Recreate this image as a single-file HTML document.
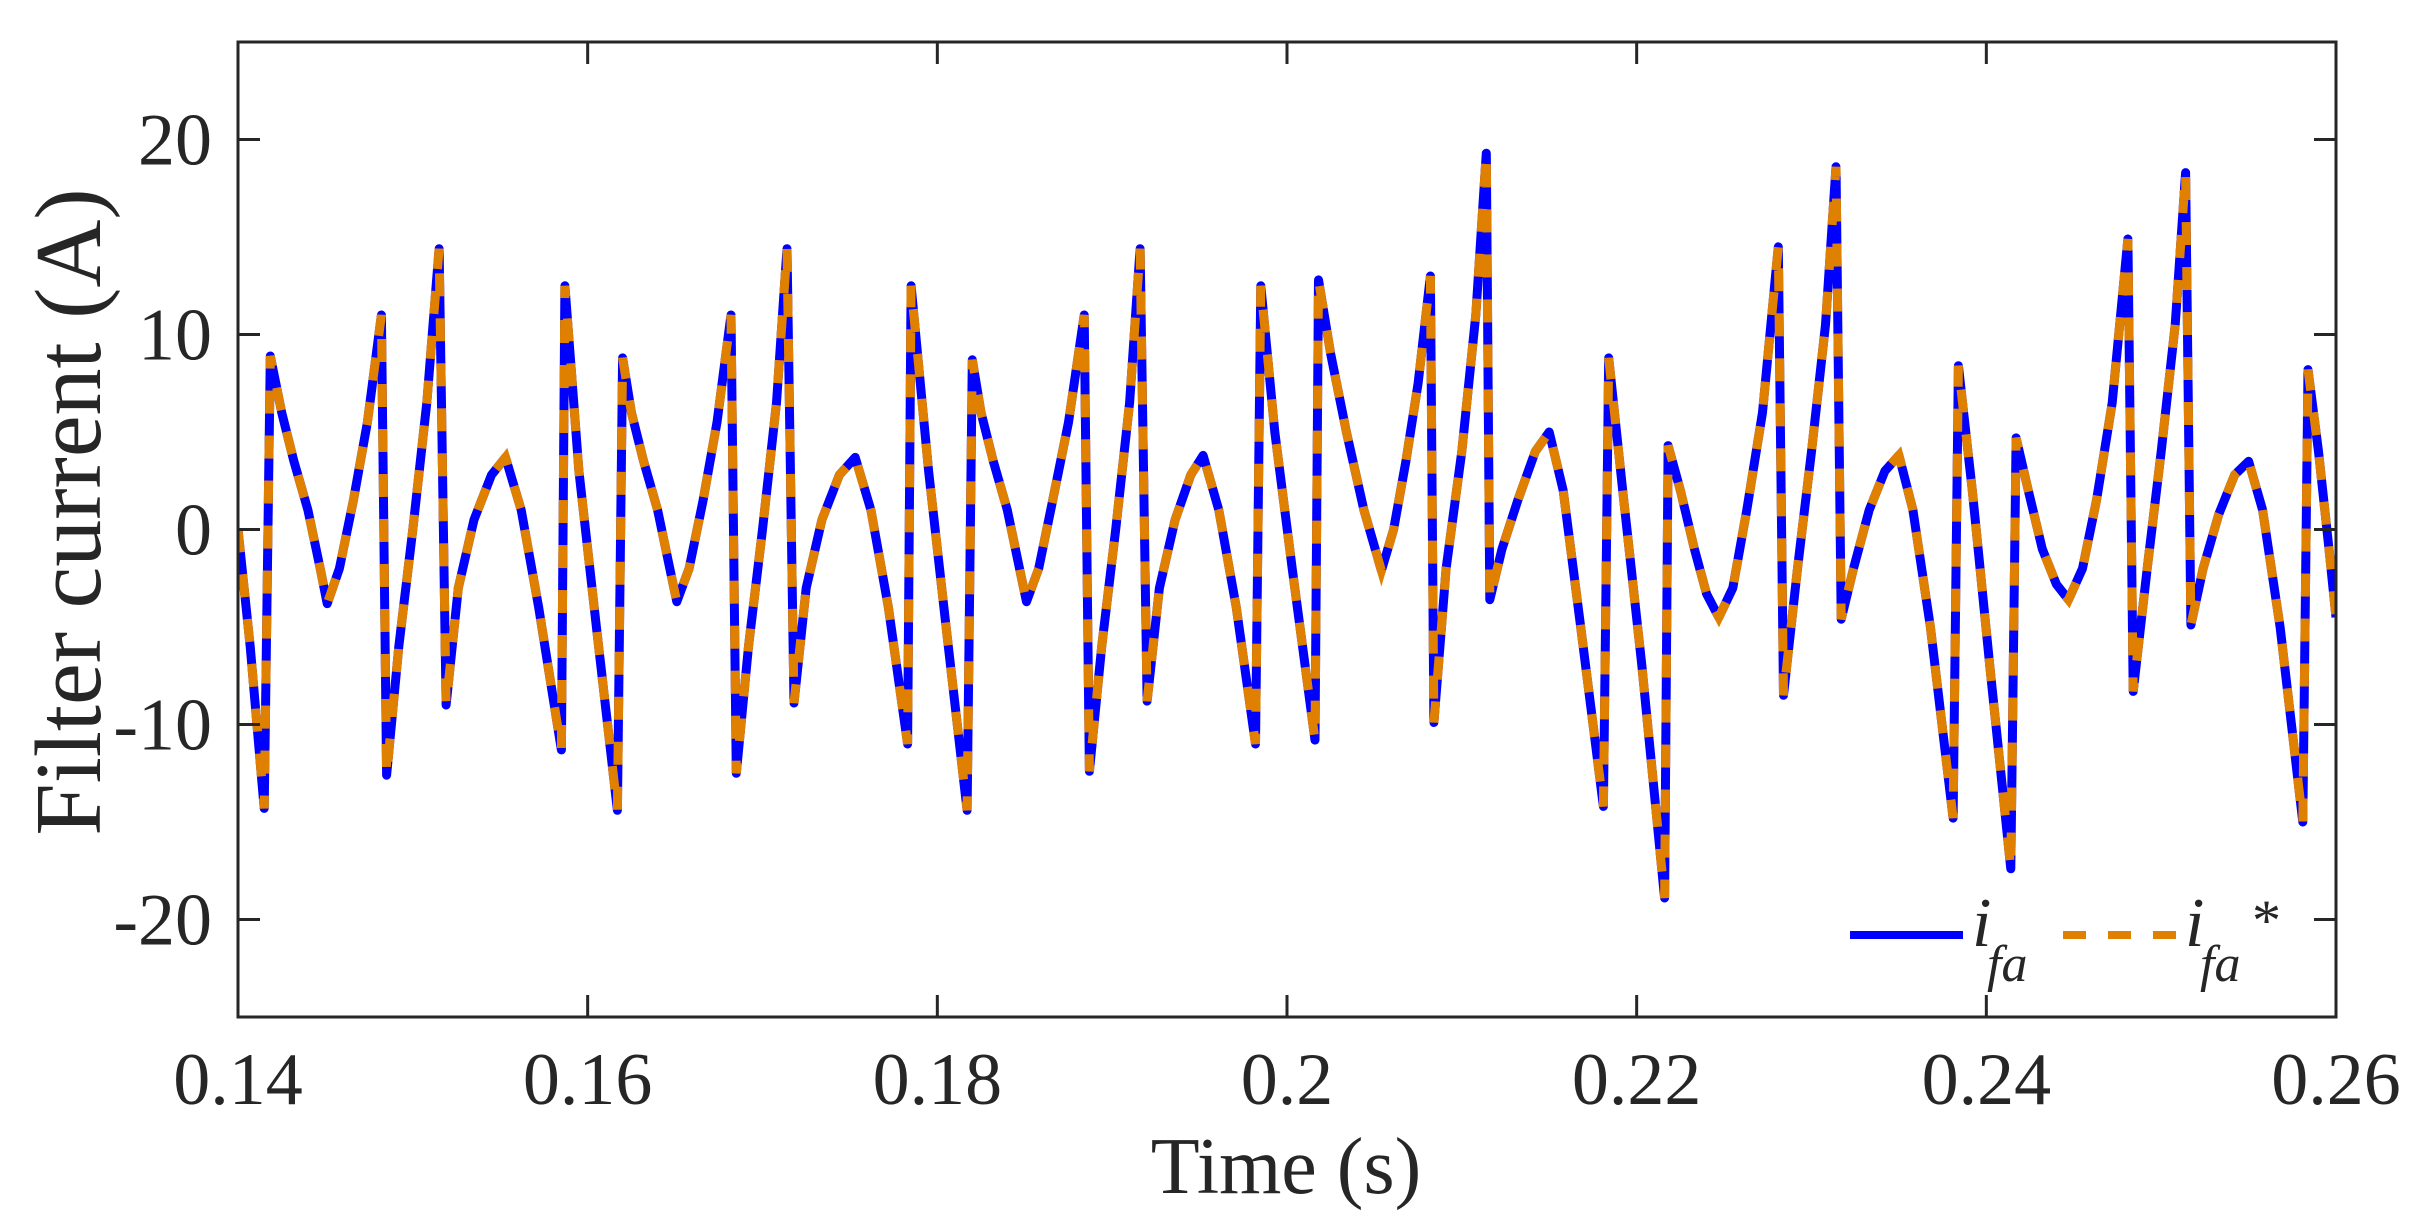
<!DOCTYPE html>
<html><head><meta charset="utf-8"><style>
html,body{margin:0;padding:0;background:#fff;}
svg{display:block;}
text{font-family:"Liberation Serif",serif;fill:#262626;}
</style></head><body>
<svg id="chart" width="2412" height="1230" viewBox="0 0 2412 1230" xmlns="http://www.w3.org/2000/svg">
<rect width="2412" height="1230" fill="#fff"/>
<g id="plot"></g>
<g id="axes"></g>
<text x="1286" y="1193" font-size="80" text-anchor="middle">Time (s)</text>
<text transform="translate(100,512) rotate(-90)" font-size="94" text-anchor="middle">Filter current (A)</text>
<g>
<line x1="1850" y1="935" x2="1963" y2="935" stroke="#0000ff" stroke-width="8"/>
<text x="1972" y="946" font-size="70" font-style="italic" fill="#000">i</text>
<text x="1987" y="981" font-size="52" font-style="italic" fill="#000">fa</text>
<line x1="2063" y1="935" x2="2177" y2="935" stroke="#e08000" stroke-width="8" stroke-dasharray="23,22"/>
<text x="2185" y="946" font-size="70" font-style="italic" fill="#000">i</text>
<text x="2200" y="981" font-size="52" font-style="italic" fill="#000">fa</text>
<text x="2252" y="940" font-size="58" fill="#000">*</text>
</g>
</svg>
<script>
const xTicks = [0.14, 0.16, 0.18, 0.2, 0.22, 0.24, 0.26];
const xTickLabels = ["0.14", "0.16", "0.18", "0.2", "0.22", "0.24", "0.26"];
const yTicks = [-20, -10, 0, 10, 20];
const yTickLabels = ["-20", "-10", "0", "10", "20"];
const times = [0.14,0.1407,0.1415,0.14185,0.1425,0.1432,0.1440,0.1447,0.1451,0.1458,0.1466,0.1474,0.1482,0.1485,0.1492,0.1500,0.1508,0.1515,0.1519,0.1526,0.1535,0.1545,0.1553,0.1562,0.1572,0.1585,0.1587,0.1595,0.1605,0.1617,0.1620,
0.1625,0.1632,0.1640,0.1647,0.1651,0.1658,0.1666,0.1674,0.1682,0.1685,0.1692,0.1700,0.1708,0.1714,0.1718,0.1725,0.1734,0.1744,0.1753,0.1762,0.1772,0.1783,0.1785,0.1795,0.1805,0.1817,0.1820,
0.1825,0.1832,0.1840,0.1847,0.1851,0.1858,0.1866,0.1875,0.1884,0.1887,0.1894,0.1902,0.1910,0.1916,0.1920,0.1927,0.1936,0.1945,0.1952,0.1961,0.1971,0.1982,0.1985,0.1993,0.2003,0.2016,0.2018,
0.2025,0.2034,0.2044,0.2054,0.2061,0.2068,0.2075,0.2082,0.2084,0.2091,0.2100,0.2108,0.2114,0.2116,0.2123,0.2132,0.2142,0.2150,0.2158,0.2168,0.2181,0.2184,0.2192,0.2203,0.2216,0.2218,0.2225,0.2233,0.2240,0.2247,0.2255,0.2263,0.2272,0.2281,0.2284,0.2292,0.2300,0.2308,0.2314,0.2317,0.2324,0.2333,0.2342,0.2350,0.2358,0.2368,0.2381,0.2384,0.2392,0.2402,0.2414,0.2417,0.2424,0.2432,0.2440,0.2447,0.2455,0.2463,0.2472,0.2481,0.2484,0.2492,0.2500,0.2508,0.2514,0.2517,0.2524,0.2533,0.2542,0.2550,0.2558,0.2568,0.2581,0.2584,0.2590,0.2596,0.2600];
const ifa = [0,-6,-14.3,8.9,6,3.5,1,-2,-3.8,-2,1.5,5.5,11,-12.6,-6,0,6.5,14.4,-9,-3,0.5,2.8,3.7,1,-4,-11.3,12.5,3,-5,-14.4,8.8,
6,3.5,1,-2,-3.7,-2,1.5,5.5,11,-12.5,-6,0,6.5,14.4,-8.9,-3,0.5,2.8,3.7,1,-4,-11,12.5,3,-5,-14.4,8.7,
6,3.5,1,-2,-3.7,-2,1.5,5.5,11,-12.4,-6,0,6.5,14.4,-8.8,-3,0.5,2.8,3.8,1,-4,-11,12.5,5,-2,-10.8,12.8,
9,5,1,-2.1,0,3.5,7.5,13,-9.9,-2,4,11,19.3,-3.6,-1,1.5,4,5,2,-5,-14.2,8.8,2,-7,-18.9,4.3,2,-1,-3.3,-4.5,-3,1,6,14.5,-8.5,-2,4,10.5,18.6,-4.6,-2,1,3,3.8,1,-5,-14.8,8.4,2,-7,-17.4,4.7,2,-1,-2.8,-3.6,-2,1.5,6.5,14.9,-8.3,-2,4,10.5,18.3,-4.9,-2,0.8,2.8,3.5,1,-5,-15,8.2,4,-1,-4.5];
const ifaRef = ifa.slice();

const X0=238, X1=2336, Y0=42, Y1=1017, XMIN=0.14, XMAX=0.26, YMIN=-25, YMAX=25;
function xs(t){return X0+(t-XMIN)/(XMAX-XMIN)*(X1-X0);}
function ys(v){return Y1-(v-YMIN)/(YMAX-YMIN)*(Y1-Y0);}
const NS="http://www.w3.org/2000/svg";
const plot=document.getElementById('plot');
const axes=document.getElementById('axes');
function mk(tag,attrs,parent){const e=document.createElementNS(NS,tag);for(const k in attrs)e.setAttribute(k,attrs[k]);parent.appendChild(e);return e;}

function pathFrom(vals){return vals.map((v,i)=>(i?'L':'M')+xs(times[i]).toFixed(1)+','+ys(v).toFixed(1)).join(' ');}
const clip=mk('clipPath',{id:'pc'},plot);
mk('rect',{x:X0,y:Y0,width:X1-X0,height:Y1-Y0},clip);
const p1=mk('path',{d:pathFrom(ifa),fill:'none',stroke:'#0000ff','stroke-width':9,'stroke-linejoin':'round','clip-path':'url(#pc)'},plot);


const p2=mk('path',{d:pathFrom(ifaRef),fill:'none',stroke:'#e08000','stroke-width':9,'stroke-dasharray':'23,22','clip-path':'url(#pc)'},plot);



const box=mk('rect',{x:X0,y:Y0,width:X1-X0,height:Y1-Y0,fill:'none',stroke:'#262626','stroke-width':3},axes);


xTicks.forEach((t,i)=>{
  const x=xs(t);
  const a=mk('line',{x1:x,y1:Y1,x2:x,y2:Y1-22,stroke:'#262626','stroke-width':3},axes);
  
  
  const b=mk('line',{x1:x,y1:Y0,x2:x,y2:Y0+22,stroke:'#262626','stroke-width':3},axes);
  
  
  const l=mk('text',{x:x,y:1104,'font-size':74,'text-anchor':'middle'},axes);
  l.textContent=xTickLabels[i];
  
  
});
yTicks.forEach((v,i)=>{
  const y=ys(v);
  const a=mk('line',{x1:X0,y1:y,x2:X0+22,y2:y,stroke:'#262626','stroke-width':3},axes);
  
  
  const b=mk('line',{x1:X1,y1:y,x2:X1-22,y2:y,stroke:'#262626','stroke-width':3},axes);
  
  
  const l=mk('text',{x:212,y:y+25,'font-size':74,'text-anchor':'end'},axes);
  l.textContent=yTickLabels[i];
  
  
});
</script>
</body></html>
